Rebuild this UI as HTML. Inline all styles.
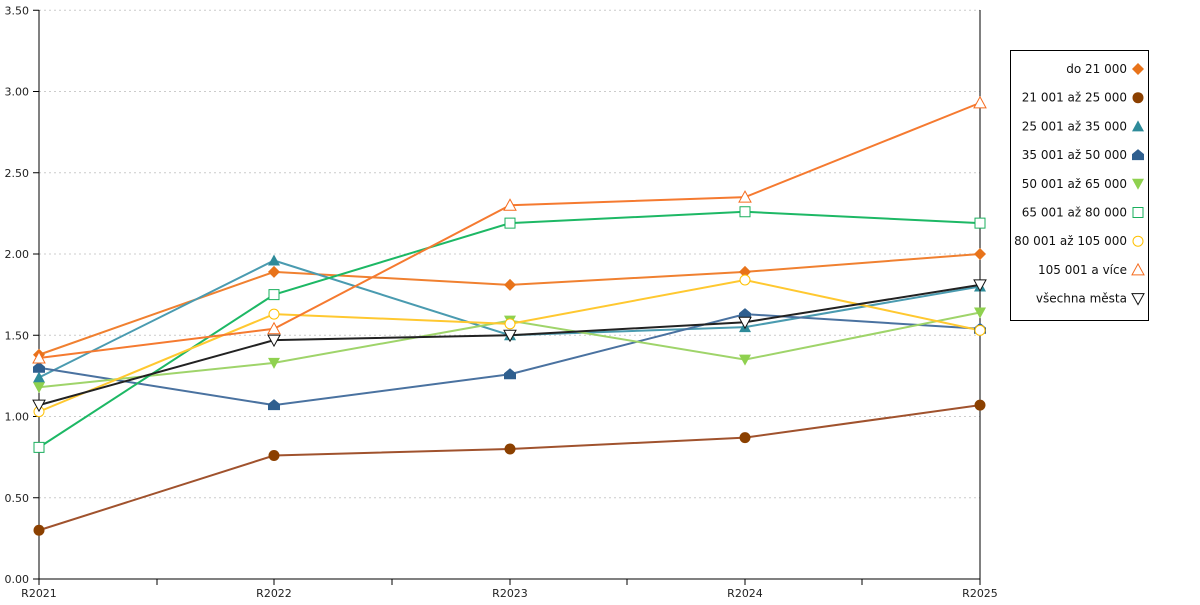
<!DOCTYPE html>
<html><head><meta charset="utf-8"><style>
body{margin:0;background:#fff;width:1200px;height:600px;overflow:hidden}
svg{font-family:"DejaVu Sans","Liberation Sans",sans-serif}
</style></head><body>
<svg id="s" width="1200" height="600" xmlns="http://www.w3.org/2000/svg"></svg>
<script>
const s=document.getElementById('s');
let h='';
const X=[39,274,510,745,980];
const Y=v=>579-v*162.5;
for(let i=1;i<=7;i++){const y=Y(i*0.5);h+=`<line x1="39" x2="980" y1="${y}" y2="${y}" stroke="#ccc" stroke-dasharray="2,3"/>`;}
for(let i=0;i<=7;i++){const y=Y(i*0.5);h+=`<line x1="33" x2="39" y1="${y}" y2="${y}" stroke="#000"/><text x="29" y="${y+4}" font-size="11" text-anchor="end" fill="#222">${(i*0.5).toFixed(2)}</text>`;}
h+=`<line x1="39" x2="39" y1="10" y2="579" stroke="#000"/><line x1="980" x2="980" y1="10" y2="579" stroke="#000"/><line x1="39" x2="980" y1="579" y2="579" stroke="#000"/>`;
[39,157,274,392,510,627,745,862,980].forEach(x=>h+=`<line x1="${x}" x2="${x}" y1="579" y2="585" stroke="#000"/>`);
['R2021','R2022','R2023','R2024','R2025'].forEach((t,i)=>h+=`<text x="${X[i]}" y="597" font-size="11" text-anchor="middle" fill="#222">${t}</text>`);
const S=[
["do 21 000","#e8731a","#f08030","diamond",[1.38,1.89,1.81,1.89,2.00]],
["21 001 až 25 000","#8b4000","#a0522d","circle",[0.30,0.76,0.80,0.87,1.07]],
["25 001 až 35 000","#2e8b9a","#4a9bb0","tri",[1.24,1.96,1.50,1.55,1.80]],
["35 001 až 50 000","#2f5f8f","#4a72a0","pent",[1.30,1.07,1.26,1.63,1.54]],
["50 001 až 65 000","#8fd14f","#9fd46a","down",[1.18,1.33,1.59,1.35,1.64]],
["65 001 až 80 000","#1aaf5d","#1db865","osq",[0.81,1.75,2.19,2.26,2.19]],
["80 001 až 105 000","#ffc000","#ffc830","ocirc",[1.03,1.63,1.57,1.84,1.53]],
["105 001 a více","#f56c1f","#f57a30","otri",[1.36,1.54,2.30,2.35,2.93]],
["všechna města","#111","#222","odown",[1.07,1.47,1.50,1.58,1.81]]];
function mk(t,x,y,c){
 switch(t){
 case"diamond":return `<polygon points="${x},${y-6} ${x+6},${y} ${x},${y+6} ${x-6},${y}" fill="${c}"/>`;
 case"circle":return `<circle cx="${x}" cy="${y}" r="5.5" fill="${c}"/>`;
 case"tri":return `<polygon points="${x},${y-6} ${x+6},${y+5} ${x-6},${y+5}" fill="${c}"/>`;
 case"pent":return `<polygon points="${x},${y-6} ${x+6},${y-1} ${x+6},${y+5} ${x-6},${y+5} ${x-6},${y-1}" fill="${c}"/>`;
 case"down":return `<polygon points="${x-6},${y-5} ${x+6},${y-5} ${x},${y+6}" fill="${c}"/>`;
 case"osq":return `<rect x="${x-5}" y="${y-5}" width="10" height="10" fill="#fff" stroke="${c}"/>`;
 case"ocirc":return `<circle cx="${x}" cy="${y}" r="5" fill="#fff" stroke="${c}"/>`;
 case"otri":return `<polygon points="${x},${y-6} ${x+6},${y+5} ${x-6},${y+5}" fill="#fff" stroke="${c}"/>`;
 case"odown":return `<polygon points="${x-6},${y-5} ${x+6},${y-5} ${x},${y+6}" fill="#fff" stroke="${c}"/>`;
 }}
S.forEach(([n,c,lc,t,d])=>{h+=`<polyline fill="none" stroke="${lc}" stroke-width="2" points="${d.map((v,i)=>X[i]+','+Y(v)).join(' ')}"/>`;});
S.forEach(([n,c,lc,t,d])=>{d.forEach((v,i)=>h+=mk(t,X[i],Y(v),c));});
h+=`<rect x="1010.5" y="50.5" width="138" height="270" fill="#fff" stroke="#000"/>`;
S.forEach(([n,c,lc,t],i)=>{const y=69+i*28.7;h+=`<text x="1127" y="${y+4}" font-size="12" text-anchor="end" fill="#111">${n}</text>`+mk(t,1138,y,c);});
s.innerHTML=h;
</script>
</body></html>
